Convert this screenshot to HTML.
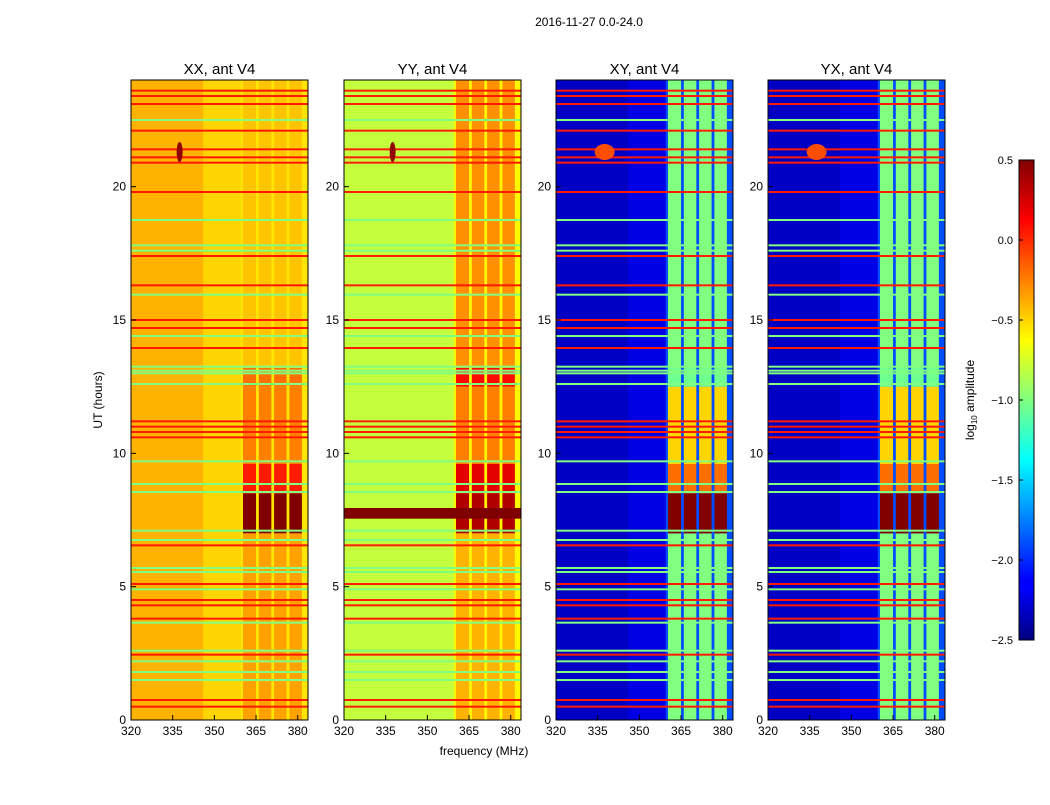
<!DOCTYPE html>
<html><head><meta charset="utf-8"><style>
body{margin:0;background:#fff;width:1050px;height:800px;overflow:hidden}
svg{font-family:"Liberation Sans","DejaVu Sans",sans-serif}
</style></head><body>
<svg id="fig" width="1050" height="800">
<defs><linearGradient id="jet" x1="0" y1="1" x2="0" y2="0">
<stop offset="0" stop-color="#000080"/><stop offset="0.11" stop-color="#0000ff"/><stop offset="0.125" stop-color="#0000ff"/>
<stop offset="0.375" stop-color="#00ffff"/><stop offset="0.5" stop-color="#80ff80"/><stop offset="0.625" stop-color="#ffff00"/>
<stop offset="0.875" stop-color="#ff0000"/><stop offset="1" stop-color="#800000"/></linearGradient></defs>
<text x="589" y="26" font-size="12" text-anchor="middle">2016-11-27 0.0-24.0</text>
<text x="484" y="755" font-size="12" text-anchor="middle">frequency (MHz)</text>
<text x="102" y="400" font-size="12" text-anchor="middle" transform="rotate(-90 102 400)">UT (hours)</text>
</svg>
<script>
const panelTitles=["XX, ant V4","YY, ant V4","XY, ant V4","YX, ant V4"];
const panelLeft=[131,344,556,768];
const bgValue=[-0.4,-0.8,-2.3,-2.3];
const midValue=[-0.5,-0.8,-2.2,-2.2];
const gapValue=[-0.55,-0.6,-1.9,-1.9];
const bandStart=[360.3,366,371.5,377];
const bandEnd=[365,370.5,376,381.5];
const segHours=[0,7,8.5,9.6,12.5,13.2,24];
const bandXX=[-0.35,0.5,0.05,-0.25,-0.2,-0.45];
const bandYY=[-0.4,0.35,0.2,-0.25,0.1,-0.3];
const bandXY=[-1.0,0.5,-0.2,-0.5,-1.05,-1.0];
const bandYX=[-1.0,0.5,-0.2,-0.5,-1.05,-1.0];
const redHours=[23.6,23.4,23.1,22.1,21.4,21.1,20.9,19.8,17.4,16.3,15.0,14.7,13.95,11.2,11.0,10.8,10.6,6.55,5.1,4.5,4.3,3.8,2.45,0.75,0.5];
const greenHours=[22.5,18.75,17.8,17.6,15.95,14.4,13.25,13.1,13.0,12.6,9.7,8.85,8.55,7.1,6.75,5.7,5.55,4.9,3.65,2.6,2.2,1.8,1.5];
const xTicks=[320,335,350,365,380];
const yTicks=[0,5,10,15,20];
const cbTicks=[0.5,0.0,-0.5,-1.0,-1.5,-2.0,-2.5];
const bands=[bandXX,bandYY,bandXY,bandYX];
const NS="http://www.w3.org/2000/svg";const svg=document.getElementById('fig');
const W=177,T=80,B=720,F0=320,F1=383.7,vmin=-2.5,vmax=0.5;
const yS=h=>B-(h/24)*(B-T);
function jet(v){let t=(v-vmin)/(vmax-vmin);t=Math.max(0,Math.min(1,t));
const c=x=>Math.round(255*Math.max(0,Math.min(1,x)));
return `rgb(${c(1.5-Math.abs(4*t-3))},${c(1.5-Math.abs(4*t-2))},${c(1.5-Math.abs(4*t-1))})`;}
function mk(tag,a,p){const e=document.createElementNS(NS,tag);for(const k in a)e.setAttribute(k,a[k]);(p||svg).appendChild(e);return e;}
panelLeft.forEach((L,pi)=>{
 const xS=f=>L+(f-F0)/(F1-F0)*W;
 const g=mk('g',{});
 
 
 const bg=mk('rect',{x:L,y:T,width:W,height:B-T,fill:jet(bgValue[pi])},g);
 
 
 const md=mk('rect',{x:xS(346),y:T,width:xS(360)-xS(346),height:B-T,fill:jet(midValue[pi])},g);
 
 
 const gp=mk('rect',{x:xS(bandStart[0]-0.8),y:T,width:xS(383.7)-xS(bandStart[0]-0.8),height:B-T,fill:jet(gapValue[pi])},g);
 
 
 for(let s=0;s<segHours.length-1;s++){
  for(let b=0;b<bandStart.length;b++){
   const r=mk('rect',{x:xS(bandStart[b]),y:yS(segHours[s+1]),width:xS(bandEnd[b])-xS(bandStart[b]),height:yS(segHours[s])-yS(segHours[s+1]),fill:jet(bands[pi][s])},g);
   
   
  }
 }
 if(pi===1){const st=mk('rect',{x:L,y:yS(7.95),width:W,height:yS(7.55)-yS(7.95),fill:jet(0.5)},g);
  
  }
 greenHours.forEach(h=>{const l=mk('rect',{x:L,y:yS(h)-1,width:W,height:2,fill:jet(-1.0)},g);
  
  });
 redHours.forEach(h=>{const l=mk('rect',{x:L,y:yS(h)-1,width:W,height:2,fill:jet(0.05)},g);
  
  });
 const sp=mk('ellipse',{cx:xS(337.5),cy:yS(21.3),rx:pi>1?10:3,ry:pi>1?8:10,fill:jet(pi>1?-0.1:0.45)},g);
 
 
 const fr=mk('rect',{x:L,y:T,width:W,height:B-T,fill:'none',stroke:'#000','stroke-width':1},g);
 
 
 const tt=mk('text',{x:L+W/2,y:74,'font-size':15,'text-anchor':'middle'},g);tt.textContent=panelTitles[pi];
 
 
 xTicks.forEach(f=>{mk('line',{x1:xS(f),x2:xS(f),y1:B,y2:B-5,stroke:'#000'},g);
  const t=mk('text',{x:xS(f),y:B+15,'font-size':12,'text-anchor':'middle'},g);t.textContent=f;
  
  });
 yTicks.forEach(h=>{mk('line',{x1:L,x2:L+5,y1:yS(h),y2:yS(h),stroke:'#000'},g);
  const t=mk('text',{x:L-5,y:yS(h)+4,'font-size':12,'text-anchor':'end'},g);t.textContent=h;
  
  });
});
const cb=mk('rect',{x:1019,y:160,width:15,height:480,fill:'url(#jet)',stroke:'#000'});


cbTicks.forEach(v=>{const y=160+(vmax-v)/(vmax-vmin)*480;
 mk('line',{x1:1019,x2:1023,y1:y,y2:y,stroke:'#000'});
 const t=mk('text',{x:1013,y:y+4,'font-size':11,'text-anchor':'end'},svg);t.textContent=(v<0?'\u2212':'')+Math.abs(v).toFixed(1);
 
 });
const cl=mk('text',{x:974,y:400,'font-size':12,'text-anchor':'middle',transform:'rotate(-90 974 400)'});
cl.innerHTML='log<tspan font-size="8" dy="3">10</tspan><tspan dy="-3"> amplitude</tspan>';


</script>
</body></html>
